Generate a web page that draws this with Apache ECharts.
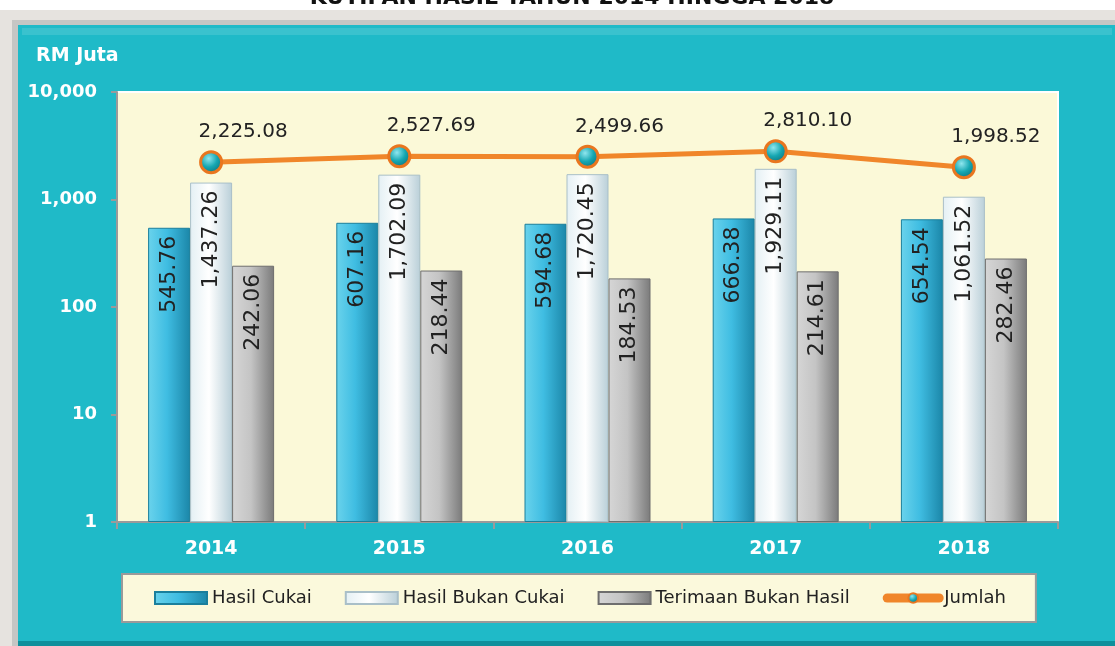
<!DOCTYPE html>
<html>
<head>
<meta charset="utf-8">
<script src="https://cdn.jsdelivr.net/npm/echarts@6/dist/echarts.min.js"></script>
<style>
  html, body { margin: 0; padding: 0; background: #fff; }
  #chart { width: 1115px; height: 646px; }
</style>
</head>
<body>
<div id="chart"></div>
<script>
const years = ["2014", "2015", "2016", "2017", "2018"];
const hasilCukai = [545.76, 607.16, 594.68, 666.38, 654.54];
const hasilBukanCukai = [1437.26, 1702.09, 1720.45, 1929.11, 1061.52];
const terimaanBukanHasil = [242.06, 218.44, 184.53, 214.61, 282.46];
const jumlah = [2225.08, 2527.69, 2499.66, 2810.10, 1998.52];
const yTicks = [1, 10, 100, 1000, 10000];

const font = "DejaVu Sans";

const fmt = (v) =>
  Number(v).toFixed(2).replace(/\B(?=(\d{3})+(?!\d))/g, ",");

const hGrad = (left, mid, right) => ({
  type: "linear", x: 0, y: 0, x2: 1, y2: 0,
  colorStops: [
    { offset: 0, color: left },
    { offset: 0.45, color: mid },
    { offset: 1, color: right },
  ],
});

const barLabel = {
  show: true,
  position: "insideTop",
  rotate: 90,
  align: "right",
  verticalAlign: "middle",
  distance: 8,
  fontFamily: font,
  fontSize: 22,
  color: "#222",
  formatter: (p) => fmt(p.value),
};

const makeBar = (name, data, color, border) => ({
  name: name,
  type: "bar",
  data: data,
  barWidth: 42,
  barGap: "0%",
  itemStyle: { color: color, borderColor: border, borderWidth: 1 },
  label: barLabel,
});

const ball = {
  type: "radial", x: 0.4, y: 0.35, r: 0.7,
  colorStops: [
    { offset: 0, color: "#8fe6ee" },
    { offset: 0.5, color: "#16a7b2" },
    { offset: 1, color: "#0a6d78" },
  ],
};

const chart = echarts.init(document.getElementById("chart"));

const option = {
  backgroundColor: "#ffffff",
  animation: false,
  textStyle: { fontFamily: font },
  graphic: [
    { type: "rect", z: -10, shape: { x: 0, y: 10, width: 1115, height: 636 }, style: { fill: "#e6e3df" } },
    { type: "rect", z: -9, shape: { x: 12, y: 20, width: 1103, height: 626 }, style: { fill: "#c5c6c4" } },
    { type: "rect", z: -8, shape: { x: 18, y: 25, width: 1097, height: 616 }, style: { fill: "#1fbac8" } },
    { type: "rect", z: -7, shape: { x: 22, y: 28, width: 1090, height: 7 }, style: { fill: "rgba(255,255,255,0.12)" } },
    { type: "rect", z: -7, shape: { x: 18, y: 641, width: 1097, height: 5 }, style: { fill: "#0e8f9b" } },
    {
      type: "text", x: 572, y: -13,
      style: {
        text: "KUTIPAN HASIL TAHUN 2014 HINGGA 2018",
        font: "bold 22px " + font, fill: "#111",
        textAlign: "center", textVerticalAlign: "top",
      },
    },
    {
      type: "text", x: 36, y: 47,
      style: { text: "RM Juta", font: "bold 19px " + font, fill: "#ffffff" },
    },
  ],
  grid: {
    left: 117, right: 57, top: 92, bottom: 124,
    show: true,
    backgroundColor: "#fbf9d8",
    borderColor: "#ffffff",
    borderWidth: 2,
  },
  legend: {
    left: 122, top: 574,
    backgroundColor: "#fbf9dc",
    borderColor: "#9a9a9a",
    borderWidth: 2,
    padding: [15, 30, 15, 32],
    itemGap: 33,
    itemWidth: 52,
    itemHeight: 12,
    textStyle: { fontFamily: font, fontSize: 18, color: "#222" },
    data: [
      { name: "Hasil Cukai", icon: "rect" },
      { name: "Hasil Bukan Cukai", icon: "rect" },
      { name: "Terimaan Bukan Hasil", icon: "rect" },
      { name: "Jumlah", lineStyle: { width: 9, cap: "round" } },
    ],
  },
  xAxis: {
    type: "category",
    data: years,
    axisLine: { lineStyle: { color: "#9a9a9a", width: 2 } },
    axisTick: { show: true, length: 7, lineStyle: { color: "#9a9a9a", width: 2 } },
    axisLabel: { color: "#ffffff", fontWeight: "bold", fontSize: 19, margin: 18, fontFamily: font },
  },
  yAxis: {
    type: "log",
    logBase: 10,
    min: yTicks[0],
    max: yTicks[yTicks.length - 1],
    axisLine: { show: true, lineStyle: { color: "#9a9a9a", width: 2 } },
    axisTick: { show: true, length: 6, lineStyle: { color: "#9a9a9a", width: 2 } },
    minorTick: { show: false },
    splitLine: { show: false },
    axisLabel: {
      color: "#ffffff", fontWeight: "bold", fontSize: 18, margin: 20, fontFamily: font,
      formatter: (v) => Number(v).toLocaleString("en-US"),
    },
  },
  series: [
    makeBar("Hasil Cukai", hasilCukai, hGrad("#6ad3ec", "#3fbde2", "#1b86a8"), "#1a7f9c"),
    makeBar("Hasil Bukan Cukai", hasilBukanCukai, hGrad("#e4f0f4", "#ffffff", "#b9cfd8"), "#a9bfc8"),
    makeBar("Terimaan Bukan Hasil", terimaanBukanHasil, hGrad("#d6d6d6", "#c4c4c4", "#7a7a7a"), "#6e6e6e"),
    {
      name: "Jumlah",
      type: "line",
      data: jumlah,
      z: 5,
      symbol: "circle",
      symbolSize: 21,
      lineStyle: { color: "#f0862a", width: 5 },
      itemStyle: { color: ball, borderColor: "#e9761f", borderWidth: 3 },
      label: {
        show: true,
        position: "top",
        distance: 8,
        offset: [32, 0],
        fontFamily: font,
        fontSize: 20,
        color: "#222",
        formatter: (p) => fmt(p.value),
      },
    },
  ],
};

chart.setOption(option);
</script>
</body>
</html>
